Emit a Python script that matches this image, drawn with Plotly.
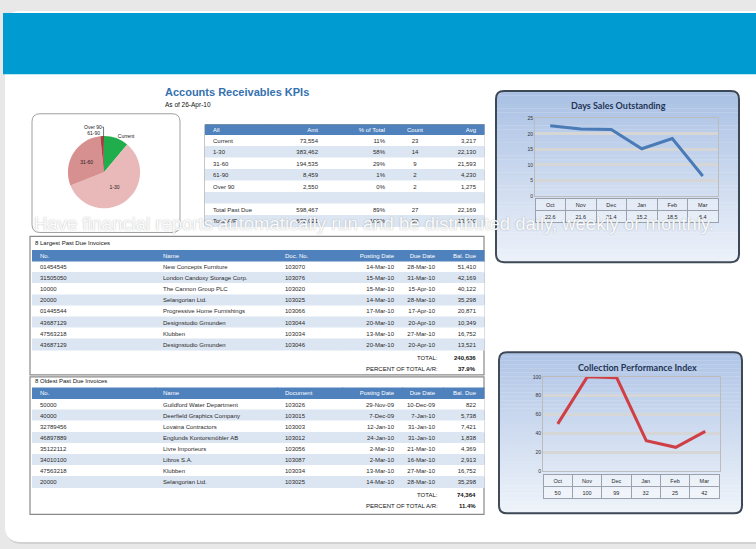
import math
import plotly.graph_objects as go

W, H = 756, 549


def X(p):
    return p / W


def Y(p):
    return min(max(1 - p / H, 0), 1)


def YR(p):
    return 1 - p / H


# ---------------- data ----------------
kpi_buckets = ["Current", "1-30", "31-60", "61-90", "Over 90"]
kpi_amounts = [73554, 383462, 194535, 8459, 2550]
kpi_pct = ["11%", "58%", "29%", "1%", "0%"]
kpi_count = [23, 14, 9, 2, 2]
kpi_avg = [3217, 22130, 21593, 4230, 1275]
kpi_total_labels = ["Total Past Due", "Total A/R"]
kpi_total_amt = [598467, 672021]
kpi_total_pct = ["89%", "100%"]
kpi_total_count = [27, 50]
kpi_total_avg = [22169, 13440]

months = ["Oct", "Nov", "Dec", "Jan", "Feb", "Mar"]
dso = [22.6, 21.6, 21.4, 15.2, 18.5, 6.4]
cpi = [50, 100, 99, 32, 25, 42]

inv_cols_largest = ["No.", "Name", "Doc. No.", "Posting Date", "Due Date", "Bal. Due"]
largest_no = ["01454545", "31505050", "10000", "20000", "01445544", "43687129", "47563218", "43687129"]
largest_name = ["New Concepts Furniture", "London Candoxy Storage Corp.", "The Cannon Group PLC",
                "Selangorian Ltd.", "Progressive Home Furnishings", "Designstudio Gmunden",
                "Klubben", "Designstudio Gmunden"]
largest_doc = ["103070", "103076", "103020", "103025", "103066", "103044", "103034", "103046"]
largest_post = ["14-Mar-10", "15-Mar-10", "15-Mar-10", "14-Mar-10", "17-Mar-10", "20-Mar-10",
                "13-Mar-10", "20-Mar-10"]
largest_due = ["28-Mar-10", "31-Mar-10", "15-Apr-10", "28-Mar-10", "17-Apr-10", "20-Apr-10",
               "27-Mar-10", "20-Apr-10"]
largest_bal = ["51,410", "42,169", "40,122", "35,298", "20,871", "10,349", "16,752", "13,521"]
largest_total = "240,636"
largest_pct = "37.9%"

inv_cols_oldest = ["No.", "Name", "Document", "Posting Date", "Due Date", "Bal. Due"]
oldest_no = ["50000", "40000", "32789456", "46897889", "35122112", "34010100", "47563218", "20000"]
oldest_name = ["Guildford Water Department", "Deerfield Graphics Company", "Lovaina Contractors",
               "Englunds Kontorsmöbler AB", "Livre Importeurs", "Libros S.A.", "Klubben",
               "Selangorian Ltd."]
oldest_doc = ["103026", "103015", "103003", "103012", "103056", "103087", "103034", "103025"]
oldest_post = ["29-Nov-09", "7-Dec-09", "12-Jan-10", "24-Jan-10", "2-Mar-10", "2-Mar-10",
               "13-Mar-10", "14-Mar-10"]
oldest_due = ["10-Dec-09", "7-Jan-10", "31-Jan-10", "31-Jan-10", "21-Mar-10", "16-Mar-10",
              "27-Mar-10", "28-Mar-10"]
oldest_bal = ["822", "5,738", "7,421", "1,838", "4,369", "2,913", "16,752", "35,298"]
oldest_total = "74,364"
oldest_pct = "11.4%"

overlay_text = "Have financial reports automatically run and be distributed daily, weekly or monthly."

# ---------------- style ----------------
BLUE_HDR = "#4f81bd"
LIGHT_ROW = "#dce6f2"
TXT = "#2a2a2a"
FONT = "Liberation Sans"
CLEAR = "rgba(0,0,0,0)"
CELL_PAD = 8  # plotly.js table internal padding

fig = go.Figure()


def nb(s):
    return str(s).replace(" ", "\u00a0")


def dual_table(x0, x1, top, colw, hdr_vals, cols, hh, h, hdr_fill, row_fill_cols, grid,
               hdr_font, fsize, align):
    """A fill/grid table plus a text table shifted so text sits centred in rows."""
    nrows = len(cols[0])
    ncol = len(cols)
    fig.add_trace(go.Table(
        domain=dict(x=[X(x0), X(x1)], y=[Y(top + 150), Y(top)]),
        columnwidth=colw,
        header=dict(values=[nb(v) for v in hdr_vals], fill_color=hdr_fill,
                    line=dict(color=grid if grid else hdr_fill, width=1 if grid else 0.5),
                    font=dict(color=CLEAR, size=fsize, family=FONT), height=hh),
        cells=dict(values=[[""] * nrows for _ in range(ncol)], fill_color=row_fill_cols,
                   line=dict(color=grid if grid else row_fill_cols, width=1 if grid else 0.5),
                   font=dict(color=CLEAR, size=fsize), height=h),
    ))
    off = CELL_PAD + 0.39 * fsize
    s = off - hh / 2
    hh2 = hh / 2 + h / 2
    fig.add_trace(go.Table(
        domain=dict(x=[X(x0), X(x1)], y=[Y(top - s + 150), Y(top - s)]),
        columnwidth=colw,
        header=dict(values=[nb(v) for v in hdr_vals], fill_color=CLEAR,
                    line=dict(color=CLEAR, width=0),
                    font=dict(color=hdr_font, size=fsize, family=FONT), align=align, height=hh2),
        cells=dict(values=[[nb(v) for v in c] for c in cols], fill_color=CLEAR,
                   line=dict(color=CLEAR, width=0),
                   font=dict(color=TXT, size=fsize, family=FONT), align=align, height=h),
    ))


# ---------------- pie ----------------
pcx, pcy, pr = 104, 171, 36.5
fig.add_trace(go.Pie(
    labels=kpi_buckets, values=kpi_amounts, sort=False, direction="clockwise", rotation=0,
    marker=dict(colors=["#1fae4b", "#e9b8b8", "#d79090", "#a8403f", "#7d2222"],
                line=dict(width=0)),
    textinfo="label", textposition=["outside", "inside", "inside", "outside", "outside"],
    textfont=dict(size=5, color="#222", family=FONT), insidetextorientation="horizontal",
    domain=dict(x=[X(pcx - pr), X(pcx + pr)], y=[Y(pcy + pr), Y(pcy - pr)]),
    hoverinfo="skip", showlegend=False,
))

# ---------------- KPI table ----------------
kpi_rows_label = kpi_buckets + [""] + kpi_total_labels
kpi_rows_amt = [f"{v:,}" for v in kpi_amounts] + [""] + [f"{v:,}" for v in kpi_total_amt]
kpi_rows_pct = kpi_pct + [""] + kpi_total_pct
kpi_rows_cnt = [str(v) for v in kpi_count] + [""] + [str(v) for v in kpi_total_count]
kpi_rows_avg = [f"{v:,}" for v in kpi_avg] + [""] + [f"{v:,}" for v in kpi_total_avg]
n_kpi = len(kpi_rows_label)
kpi_fill = ["white" if i % 2 == 0 else LIGHT_ROW for i in range(n_kpi)]

dual_table(205, 484, 123, [65, 56, 67, 44, 47], ["All", "Amt", "% of Total", "Count", "Avg"],
           [kpi_rows_label, kpi_rows_amt, kpi_rows_pct, kpi_rows_cnt, kpi_rows_avg],
           10, 11.5, BLUE_HDR, [kpi_fill] * 5, None, "white", 6,
           ["left", "right", "right", "center", "right"])

# ---------------- invoice tables ----------------
inv_align = ["left", "left", "left", "right", "right", "right"]
inv_w = [123, 122, 65, 60, 41, 41]
inv_fill = ["white" if i % 2 == 0 else LIGHT_ROW for i in range(len(largest_no))]
dual_table(32, 484, 250, inv_w, inv_cols_largest,
           [largest_no, largest_name, largest_doc, largest_post, largest_due, largest_bal],
           11, 11.1, BLUE_HDR, [inv_fill] * 6, None, "white", 6, inv_align)
dual_table(32, 484, 389, inv_w, inv_cols_oldest,
           [oldest_no, oldest_name, oldest_doc, oldest_post, oldest_due, oldest_bal],
           11, 11.1, BLUE_HDR, [inv_fill] * 6, None, "white", 6, inv_align)

# ---------------- line charts ----------------
fig.add_trace(go.Scatter(x=months, y=dso, mode="lines", line=dict(color="#4a7bb7", width=3),
                         xaxis="x", yaxis="y", hoverinfo="skip", showlegend=False))
fig.add_trace(go.Scatter(x=months, y=cpi, mode="lines", line=dict(color="#cf3f45", width=3),
                         xaxis="x2", yaxis="y2", hoverinfo="skip", showlegend=False))

cell_bg = "rgba(255,255,255,0.35)"
dual_table(535, 718, 198, [1] * 6, months, [[f"{v:.1f}"] for v in dso], 12, 12,
           cell_bg, [[cell_bg]] * 6, "#9aa3ad", TXT, 5.5, "center")
dual_table(543, 720, 477, [1] * 6, months, [[f"{v:d}"] for v in cpi], 12, 12,
           cell_bg, [[cell_bg]] * 6, "#9aa3ad", TXT, 5.5, "center")

axis_common = dict(showgrid=False, zeroline=False, showline=True, linecolor="#bcbcbc",
                   mirror=True, showticklabels=False, fixedrange=True)
yaxis_common = dict(showgrid=True, gridcolor="#d6d6d6", gridwidth=2.5, zeroline=False,
                    showline=True, linecolor="#bcbcbc", mirror=True, ticks="",
                    tickfont=dict(size=5, color="#333", family=FONT), fixedrange=True)

# ---------------- shapes ----------------
shapes = []


def rect(x0, y0, x1, y1, fill=None, line=None, lw=1):
    shapes.append(dict(type="rect", xref="paper", yref="paper", x0=X(x0), x1=X(x1),
                       y0=YR(y1), y1=YR(y0), fillcolor=fill or CLEAR,
                       line=dict(color=line or CLEAR, width=lw if line else 0),
                       layer="below"))


def rrect_path(x0, y0, x1, y1, r):
    pts = [
        ("M", X(x0 + r), YR(y0)), ("L", X(x1 - r), YR(y0)),
        ("Q", X(x1), YR(y0), X(x1), YR(y0 + r)), ("L", X(x1), YR(y1 - r)),
        ("Q", X(x1), YR(y1), X(x1 - r), YR(y1)), ("L", X(x0 + r), YR(y1)),
        ("Q", X(x0), YR(y1), X(x0), YR(y1 - r)), ("L", X(x0), YR(y0 + r)),
        ("Q", X(x0), YR(y0), X(x0 + r), YR(y0)),
    ]
    s = ""
    for p in pts:
        s += p[0] + " " + " ".join(f"{v:.5f}" for v in p[1:]) + " "
    return s + "Z"


def rrect(x0, y0, x1, y1, r, fill=None, line=None, lw=1):
    shapes.append(dict(type="path", xref="paper", yref="paper", path=rrect_path(x0, y0, x1, y1, r),
                       fillcolor=fill or CLEAR,
                       line=dict(color=line or CLEAR, width=lw if line else 0),
                       layer="below"))


def mix(c1, c2, t):
    return "rgb(%d,%d,%d)" % tuple(round(a + (b - a) * t) for a, b in zip(c1, c2))


def gradient_panel(x0, y0, x1, y1, r, ctop, cbot, n=40):
    def inset(y):
        if y < y0 + r:
            dy = y0 + r - y
            return r - math.sqrt(max(r * r - dy * dy, 0))
        if y > y1 - r:
            dy = y - (y1 - r)
            return r - math.sqrt(max(r * r - dy * dy, 0))
        return 0
    hgt = (y1 - y0) / n
    for i in range(n):
        ya, yb = y0 + i * hgt, y0 + (i + 1) * hgt + 0.3
        yb = min(yb, y1)
        ia, ib = inset(ya), inset(yb)
        path = (f"M {X(x0 + ia):.5f} {YR(ya):.5f} L {X(x1 - ia):.5f} {YR(ya):.5f} "
                f"L {X(x1 - ib):.5f} {YR(yb):.5f} L {X(x0 + ib):.5f} {YR(yb):.5f} Z")
        shapes.append(dict(type="path", xref="paper", yref="paper", path=path,
                           fillcolor=mix(ctop, cbot, i / (n - 1)), line=dict(width=0),
                           layer="below"))
    rrect(x0, y0, x1, y1, r, line="#3d4856", lw=2)


# page
rrect(6, 10, 790, 547, 16, fill="#d2d2d2")
rrect(5, 8, 788, 545, 16, fill="white")
rect(3, 10, 756, 72, fill="#009bd0")

# pie box
rrect(32, 112, 180, 232, 8, fill="white", line="#a0a0a0", lw=1)
# KPI table frame
rect(205, 123, 484, 225, line="#8a8a8a", lw=1)
# invoice boxes
rect(30, 236, 484, 376, fill="white", line="#8a8a8a", lw=1.2)
rect(30, 378, 484, 517, fill="white", line="#8a8a8a", lw=1.2)
# chart panels
gradient_panel(496, 89, 739, 262, 8, (170, 193, 228), (236, 241, 249))
gradient_panel(499, 353, 742, 516, 8, (176, 197, 230), (238, 243, 250))

# ---------------- annotations ----------------
ann = []


def text(x, y, s, size, color=TXT, bold=False, anchor="left", family=FONT, yanchor="middle"):
    ann.append(dict(x=X(x), y=YR(y), xref="paper", yref="paper", text=f"<b>{s}</b>" if bold else s,
                    showarrow=False, xanchor=anchor, yanchor=yanchor,
                    font=dict(size=size, color=color, family=family)))


text(163, 90, "Accounts Receivables KPIs", 11, color="#3471b0", bold=True)
text(163, 103, "As of 26-Apr-10", 6.5, color="#111")
text(618, 104, "Days Sales Outstanding", 9, color="#1f3556", bold=True, anchor="center", family="Lato")
text(637, 369, "Collection Performance Index", 9, color="#1f3556", bold=True, anchor="center",
     family="Lato")
text(33, 243, "8 Largest Past Due Invoices", 6, color="#111")
text(33, 382, "8 Oldest Past Due Invoices", 6, color="#111")
text(440, 359, "TOTAL:", 6, color="#111", anchor="right")
text(478, 359, largest_total, 6, color="#111", anchor="right", bold=True)
text(440, 370, "PERCENT OF TOTAL A/R:", 6, color="#111", anchor="right")
text(478, 370, largest_pct, 6, color="#111", anchor="right", bold=True)
text(440, 497, "TOTAL:", 6, color="#111", anchor="right")
text(478, 497, oldest_total, 6, color="#111", anchor="right", bold=True)
text(440, 509, "PERCENT OF TOTAL A/R:", 6, color="#111", anchor="right")
text(478, 509, oldest_pct, 6, color="#111", anchor="right", bold=True)

ann.append(dict(x=X(32), y=YR(223), xref="paper", yref="paper", text=overlay_text, showarrow=False,
                xanchor="left", yanchor="middle",
                font=dict(size=18.5, color="rgba(255,255,255,0.96)", family=FONT,
                          shadow="0px 0px 1.5px rgba(90,90,90,0.5)")))

fig.update_layout(
    width=W, height=H, margin=dict(l=0, r=0, t=0, b=0), autosize=False,
    paper_bgcolor="#e8e8e8", plot_bgcolor="white", showlegend=False,
    xaxis=dict(domain=[X(535), X(718)], range=[-0.5, 5.5], anchor="y", **axis_common),
    yaxis=dict(domain=[YR(195), YR(116.7)], range=[0, 25], dtick=5, anchor="x", **yaxis_common),
    xaxis2=dict(domain=[X(543), X(720)], range=[-0.5, 5.5], anchor="y2", **axis_common),
    yaxis2=dict(domain=[YR(473), YR(378)], range=[0, 100], dtick=20, anchor="x2", **yaxis_common),
    shapes=shapes, annotations=ann,
)

fig.write_html("out.html", config={"displayModeBar": False},
               post_script="document.body.style.margin='0px';"
                           "document.body.style.padding='0px';"
                           "document.body.style.overflow='hidden';")
